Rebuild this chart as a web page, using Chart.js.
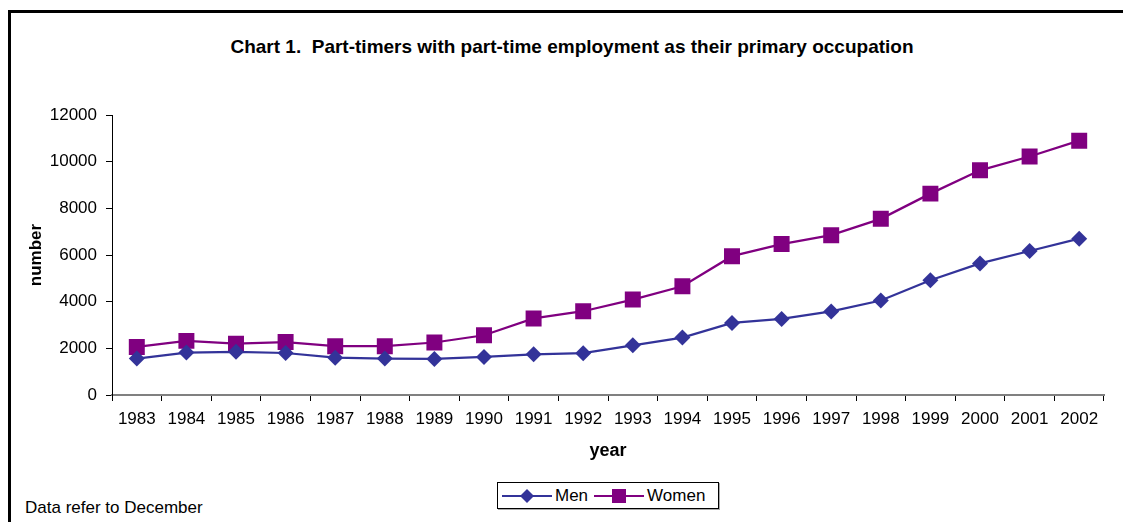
<!DOCTYPE html>
<html lang="en">
<head>
  <meta charset="UTF-8" />
  <title>Part-timers chart</title>
  <script src="https://cdn.jsdelivr.net/npm/chart.js"></script>
  <style>
    html, body { margin: 0; padding: 0; background: #fff; }
    body { width: 1123px; height: 522px; position: relative; overflow: hidden;
           font-family: "Liberation Sans", Arial, sans-serif; color: #000; }
    .frame { position: absolute; left: 8px; top: 10px; width: 1200px; height: 600px;
             border-left: 3px solid #000; border-top: 3px solid #000; }
    .title { position: absolute; left: 0; width: 1144px; top: 36px; text-align: center;
             font-size: 19px; font-weight: bold; white-space: pre; }
    #chartWrap { position: absolute; left: 0; top: 0; width: 1123px; height: 472px; }
    .legend { position: absolute; left: 497px; top: 482px; width: 220px; height: 25px;
              border: 1px solid #000; box-shadow: 1px 1px 0 #aaa; background: #fff;
              display: flex; align-items: center; font-size: 17px; }
    .legend .item { display: flex; align-items: center; margin-left: 4px; }
    .legend svg { margin-right: 3px; }
    .note { position: absolute; left: 25px; top: 498px; font-size: 17px; }
  </style>
</head>
<body>
  <div class="frame"></div>
  <div class="title">Chart 1.  Part-timers with part-time employment as their primary occupation</div>
  <div id="chartWrap"><canvas id="partChart"></canvas></div>

  <div class="legend">
    <div class="item">
      <svg width="50" height="16"><line x1="0" y1="8" x2="50" y2="8" stroke="#333399" stroke-width="2"/>
        <polygon points="25,1 32,8 25,15 18,8" fill="#333399"/></svg>
      <span>Men</span>
    </div>
    <div class="item" style="margin-left:6px">
      <svg width="50" height="16"><line x1="0" y1="8" x2="50" y2="8" stroke="#800080" stroke-width="2"/>
        <rect x="18" y="1" width="14" height="14" fill="#800080"/></svg>
      <span>Women</span>
    </div>
  </div>
  <div class="note">Data refer to December</div>

  <script>
    const years = ['1983','1984','1985','1986','1987','1988','1989','1990','1991','1992',
                   '1993','1994','1995','1996','1997','1998','1999','2000','2001','2002'];
    const men = [1560, 1820, 1850, 1800, 1600, 1560, 1545, 1630, 1745, 1790,
                 2130, 2460, 3090, 3260, 3580, 4050, 4920, 5640, 6170, 6700];
    const women = [2060, 2320, 2200, 2270, 2090, 2090, 2250, 2560, 3280, 3590,
                   4090, 4660, 5950, 6470, 6850, 7550, 8630, 9630, 10220, 10900];
    const yTicks = [0, 2000, 4000, 6000, 8000, 10000, 12000];

    const font = { family: '"Liberation Sans", Arial, sans-serif' };

    const ctx = document.getElementById('partChart').getContext('2d');
    new Chart(ctx, {
      type: 'line',
      data: {
        labels: years,
        datasets: [{
          label: 'Men',
          data: men,
          borderColor: '#333399',
          backgroundColor: '#333399',
          borderWidth: 2.25,
          pointStyle: 'rectRot',
          pointRadius: 8,
          pointBorderWidth: 0,
          tension: 0
        }, {
          label: 'Women',
          data: women,
          borderColor: '#800080',
          backgroundColor: '#800080',
          borderWidth: 2.25,
          pointStyle: 'rect',
          pointRadius: 11.3,
          pointBorderWidth: 0,
          tension: 0
        }]
      },
      options: {
        responsive: true,
        maintainAspectRatio: false,
        animation: false,
        layout: { padding: { left: 20, right: 19, top: 115, bottom: 0 } },
        scales: {
          x: {
            offset: true,
            grid: { offset: true, drawOnChartArea: false, drawTicks: true, tickLength: 6, tickColor: '#000' },
            border: { color: '#808080', width: 2 },
            ticks: { color: '#000', font: { ...font, size: 17 }, padding: 8, maxRotation: 0, autoSkip: false },
            title: { display: true, text: 'year', color: '#000',
                     font: { ...font, size: 18, weight: 'bold' }, padding: { top: 0, bottom: 10 } },
            afterFit: s => { s.height = 77; }
          },
          y: {
            min: 0,
            max: 12000,
            afterBuildTicks: s => { s.ticks = yTicks.map(v => ({ value: v })); },
            grid: { drawOnChartArea: false, drawTicks: true, tickLength: 6, tickColor: '#000' },
            border: { color: '#000', width: 1 },
            ticks: { color: '#000', font: { ...font, size: 17 }, padding: 9,
                     callback: v => String(v) },
            title: { display: true, text: 'number', color: '#000',
                     font: { ...font, size: 17, weight: 'bold' }, padding: { top: 6, bottom: 0 } },
            afterFit: s => { s.width = 92; }
          }
        },
        plugins: {
          legend: { display: false },
          tooltip: { enabled: false },
          title: { display: false }
        }
      }
    });
  </script>
</body>
</html>
